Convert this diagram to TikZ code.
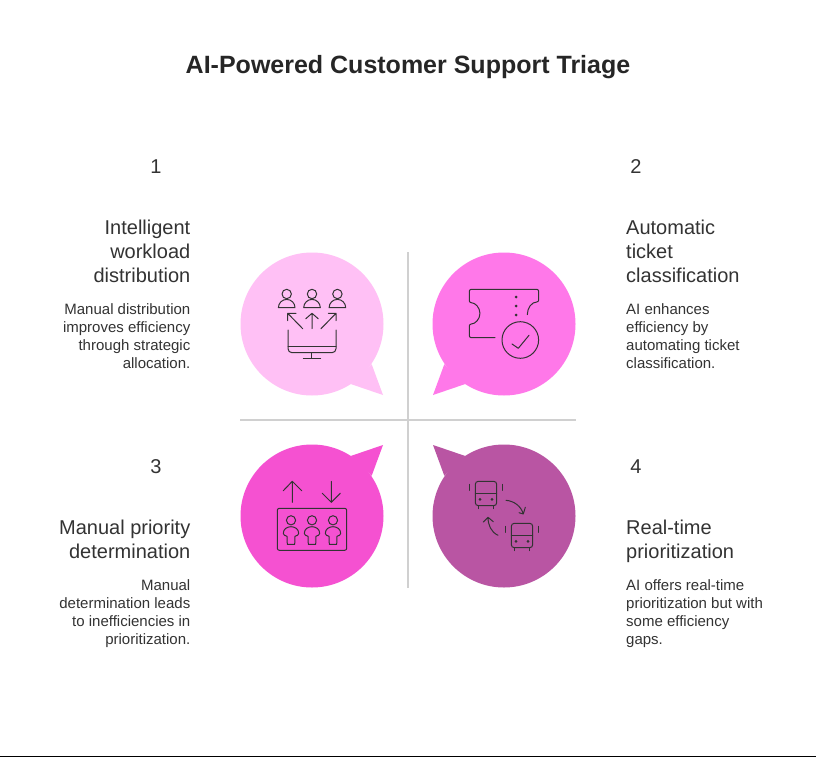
\documentclass[tikz,border=0pt]{standalone}
\usepackage{fontspec}
\setmainfont{Liberation Sans}
\definecolor{inkline}{HTML}{333333}
\definecolor{rulegray}{HTML}{D0D0D0}
\definecolor{palepink}{HTML}{FFC0F5}
\definecolor{brightpink}{HTML}{FF78E9}
\definecolor{hotpink}{HTML}{F551D1}
\definecolor{plumpink}{HTML}{B955A3}
\tikzset{
    x=1pt,
    y=-1pt,
    icon/.style={draw=inkline,line width=1pt,line cap=round,line join=round},
    titletext/.style={inner sep=0,text=black!85,font=\fontsize{25}{29}\selectfont\bfseries},
    numtext/.style={inner sep=0,text=black!80,font=\fontsize{20}{24}\selectfont},
    headtext/.style={inner sep=0,text=black!80,font=\fontsize{20}{24}\selectfont},
    bodytext/.style={inner sep=0,text=black!80,font=\fontsize{15}{18}\selectfont},
}
% colour, centre x, centre y, tail direction x, tail direction y
\newcommand{\bubble}[5] {
    \fill[#1] (#2,#3) circle (71.5);
    \fill[#1] ({#2+#4*71},{#3+#5*71}) -- ({#2+#4*59.7},{#3+#5*40.3})
        -- ({#2+#4*38.7},{#3+#5*60}) -- cycle;
}
\newcommand{\bustperson}[1] {
    \draw[icon] (#1,294) circle (4.7);
    \draw[icon] ({#1-8.3},307.7) arc (180:360:8.3) -- cycle;
}
\newcommand{\fullperson}[1] {
    \draw[icon] (#1,520.3) circle (4.6);
    \draw[icon] ({#1-4},536.3) .. controls ({#1-6},535.6) and ({#1-7.7},535) .. ({#1-7.7},533.5)
        .. controls ({#1-7.7},529) and ({#1-4},526.7) .. (#1,526.7)
        .. controls ({#1+4},526.7) and ({#1+7.7},529) .. ({#1+7.7},533.5)
        .. controls ({#1+7.7},535) and ({#1+6},535.6) .. ({#1+4},536.3)
        -- ({#1+3.7},544.3) -- ({#1-3.7},544.3) -- cycle;
}
\newcommand{\bus}[2] {
    \draw[icon,rounded corners=3] (#1,#2) rectangle ({#1+21.4},{#2+24.4});
    \draw[icon] (#1,{#2+12}) -- ({#1+21.4},{#2+12});
    \fill[inkline] ({#1+4.7},{#2+18}) circle (1.5);
    \fill[inkline] ({#1+16.7},{#2+18}) circle (1.5);
    \draw[icon] ({#1+3},{#2+24.4}) -- ({#1+3},{#2+27.4});
    \draw[icon] ({#1+18.4},{#2+24.4}) -- ({#1+18.4},{#2+27.4});
    \draw[icon] ({#1-6},{#2+3}) -- ({#1-6},{#2+9});
    \draw[icon] ({#1+27},{#2+3}) -- ({#1+27},{#2+9});
}
\begin{document}
\begin{tikzpicture}
    \useasboundingbox (0,0) rectangle (816,757);
    \fill[white] (0,0) rectangle (816,757);
    \draw[black,line width=1pt] (0,756.5) -- (816,756.5);

    \node[titletext] (title) at (408,67.5) {AI-Powered Customer Support Triage};

    \node[numtext] (numone) at (156,167) {1};
    \node[numtext] (numtwo) at (636,167) {2};
    \node[numtext] (numthree) at (156,467) {3};
    \node[numtext] (numfour) at (636,467) {4};

    \node[headtext,anchor=north east,align=right] (headone) at (190.5,220)
        {Intelligent\\workload\\distribution};
    \node[bodytext,anchor=north east,align=right] (bodyone) at (190.5,303.5)
        {Manual distribution\\improves efficiency\\through strategic\\allocation.};
    \node[headtext,anchor=north west,align=left] (headtwo) at (626,220)
        {Automatic\\ticket\\classification};
    \node[bodytext,anchor=north west,align=left] (bodytwo) at (626,303.5)
        {AI enhances\\efficiency by\\automating ticket\\classification.};
    \node[headtext,anchor=north east,align=right] (headthree) at (190.5,520)
        {Manual priority\\determination};
    \node[bodytext,anchor=north east,align=right] (bodythree) at (190.5,579.5)
        {Manual\\determination leads\\to inefficiencies in\\prioritization.};
    \node[headtext,anchor=north west,align=left] (headfour) at (626,520)
        {Real-time\\prioritization};
    \node[bodytext,anchor=north west,align=left] (bodyfour) at (626,579.5)
        {AI offers real-time\\prioritization but with\\some efficiency\\gaps.};

    \draw[rulegray,line width=2pt] (408,252) -- (408,588);
    \draw[rulegray,line width=2pt] (240,420) -- (576,420);

    \bubble{palepink}{312}{324}{1}{1}
    \bubble{brightpink}{504}{324}{-1}{1}
    \bubble{hotpink}{312}{516}{1}{-1}
    \bubble{plumpink}{504}{516}{-1}{-1}

    % users and monitor
    \foreach \x in {286.7,312,337.4} {
        \bustperson{\x}
    }
    \draw[icon] (302.7,328.7) -- (287.7,313.3) (287.7,320.7) -- (287.7,313.3) -- (296,313.3);
    \draw[icon] (312,328.7) -- (312,313.3) (305.7,318.8) -- (312,313.3) -- (318.3,318.8);
    \draw[icon] (321,328.7) -- (336,313.3) (328.3,313.3) -- (336,313.3) -- (336,320.7);
    \draw[icon,rounded corners=4] (288,330) -- (288,352.7) -- (336,352.7) -- (336,330);
    \draw[icon] (288,346.7) -- (336,346.7);
    \draw[icon] (311.7,352.7) -- (311.7,358.3);
    \draw[icon] (303.3,358.3) -- (320.7,358.3);

    % ticket and check
    \draw[icon,rounded corners=2] (495,337.7) -- (469.3,337.7) -- (469.3,324)
        arc (90:-90:10.65) -- (469.3,289.3) -- (538.7,289.3) -- (538.7,302)
        [sharp corners] .. controls (532,302) and (527.3,307.5) .. (527.3,314.7);
    \foreach \y in {297,306,315} {
        \fill[inkline] (516,\y) circle (1.5);
    }
    \draw[icon] (520.3,340) circle (18.3);
    \draw[icon] (512,344) -- (518.3,348.3) -- (529,335.3);

    % lift with three people
    \draw[icon,rounded corners=2] (277.3,508.3) rectangle (346.7,550.3);
    \draw[icon] (292.3,502.3) -- (292.3,481.3) (283.3,490.7) -- (292.3,481.3) -- (301.7,490.7);
    \draw[icon] (331.3,481.3) -- (331.3,502.3) (322.3,493.3) -- (331.3,502.3) -- (340.3,493.3);
    \foreach \x in {291,312,333} {
        \fullperson{\x}
    }

    % two buses swapping
    \bus{475.3}{481.3}
    \bus{511.3}{523.3}
    \draw[icon] (506,500.3) .. controls (514,501) and (521,506) .. (523.3,514)
        (519,512.7) -- (523.3,514) -- (525.3,507.3);
    \draw[icon] (498,535.3) .. controls (491,532) and (488,525) .. (488,517.3)
        (483.3,522) -- (488,517.3) -- (493.3,521.7);
\end{tikzpicture}
\end{document}
